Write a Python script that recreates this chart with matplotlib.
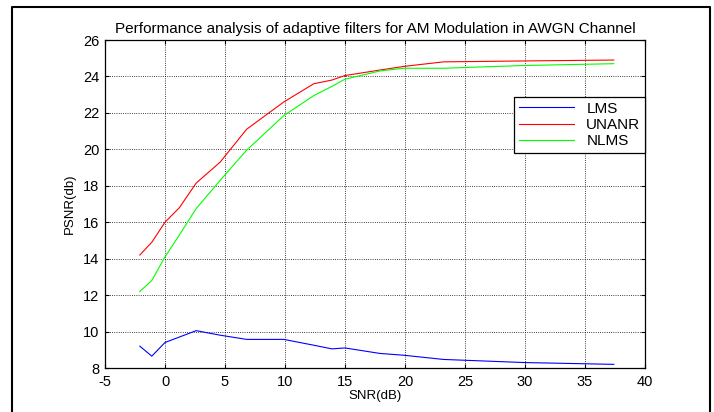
import matplotlib
matplotlib.use('Agg')
import matplotlib.pyplot as plt
from matplotlib.lines import Line2D

plt.rcParams['font.family'] = ['Liberation Sans', 'DejaVu Sans']
plt.rcParams['axes.unicode_minus'] = False

snr = [-2.1, -1.1, 0, 1.2, 2.6, 4.6, 6.8, 9.9, 12.4, 13.9, 15.0, 17.9, 19.9, 23.2, 29.9, 37.4]
lms = [9.2, 8.65, 9.4, 9.7, 10.05, 9.8, 9.57, 9.57, 9.25, 9.05, 9.1, 8.8, 8.7, 8.47, 8.3, 8.2]
unanr = [14.2, 14.9, 16.0, 16.8, 18.15, 19.3, 21.1, 22.6, 23.6, 23.8, 24.05, 24.35, 24.55, 24.8, 24.85, 24.9]
nlms = [12.2, 12.8, 14.1, 15.3, 16.75, 18.3, 19.95, 21.85, 22.95, 23.45, 23.85, 24.3, 24.45, 24.45, 24.6, 24.7]

xticks = list(range(-5, 45, 5))
yticks = list(range(8, 28, 2))

fig = plt.figure(figsize=(7.14, 4.12), dpi=100)
ax = fig.add_axes([105/714, 44/412, 540/714, 328/412])

ax.plot(snr, lms, color='#0000ff', lw=0.8, label='LMS')
ax.plot(snr, unanr, color='#ff0000', lw=0.8, label='UNANR')
ax.plot(snr, nlms, color='#00ff00', lw=0.8, label='NLMS')

ax.set_xlim(-5, 40)
ax.set_ylim(8, 26)
ax.set_xticks(xticks)
ax.set_yticks(yticks)
ax.tick_params(direction='in', top=True, right=True, labelsize=10.5, length=3, width=0.8)
ax.tick_params(axis='x', pad=5)
ax.tick_params(axis='y', pad=4)
ax.grid(True, color='black', linestyle=':', lw=0.6)
for s in ax.spines.values():
    s.set_linewidth(0.9)

ax.set_title('Performance analysis of adaptive filters for AM Modulation in AWGN Channel',
             fontsize=11, pad=5)
ax.set_xlabel('SNR(dB)', fontsize=9.5, labelpad=1)
ax.set_ylabel('PSNR(db)', fontsize=9.5, labelpad=5)

leg = ax.legend(loc='upper right', bbox_to_anchor=(1.0, 0.826), fontsize=11,
                fancybox=False, framealpha=1, edgecolor='black', borderpad=0.3,
                borderaxespad=0, handlelength=3.6, labelspacing=0.15)
leg.get_frame().set_linewidth(0.9)

# frame around figure (no bottom edge)
l, r, t = 12/714, 710/714, 1 - 7/412
fig.add_artist(Line2D([l, l, r, r], [0, t, t, 0], transform=fig.transFigure,
                      color='black', lw=1.5))

fig.savefig('out.png', dpi=100)
